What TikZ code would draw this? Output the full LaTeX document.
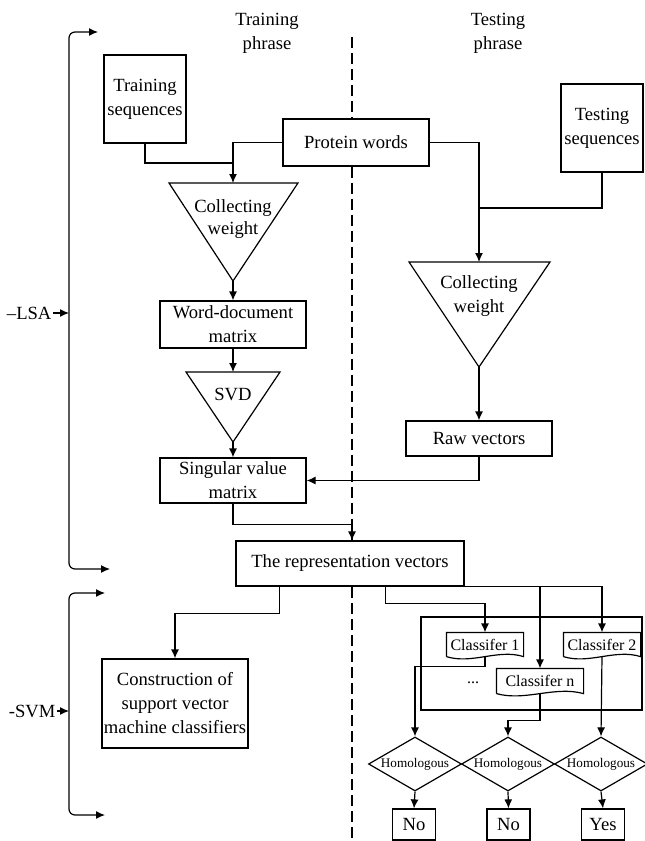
\documentclass[tikz,border=0pt]{standalone}
\usepackage{fontspec}
\setmainfont{Liberation Serif}
\usetikzlibrary{arrows.meta,shapes.geometric,calc}

\begin{document}
\begin{tikzpicture}[x=0.5pt, y=-0.5pt, line width=0.6pt, font=\fontsize{9.3}{12}\selectfont]

\useasboundingbox (0,0) rectangle (644,841);

%%% Styles

\tikzstyle{box}=[rectangle, draw, align=center, inner sep=1pt]
\tikzstyle{label}=[align=center, inner sep=1pt]
\tikzstyle{arr}=[-{Latex[length=4.5pt, width=4pt]}]
\tikzstyle{brace}=[{Latex[length=4.5pt, width=4pt]}-{Latex[length=4.5pt, width=4pt]}, rounded corners=3pt]
\tikzstyle{divide}=[dash pattern=on 5.5pt off 2.5pt, line width=1.1pt]
\tikzstyle{doc}=[inner sep=0pt, font=\fontsize{8}{9}\selectfont]
\tikzstyle{decision}=[diamond, draw, aspect=1.72, inner sep=0pt, minimum width=46.5pt, minimum height=27pt, font=\fontsize{6.6}{7}\selectfont]
\tikzstyle{answer}=[rectangle, draw, inner xsep=3pt, minimum width=21.5pt, minimum height=15.5pt]


% Phase titles

\node (trainlab) [label] at (267,33) {Training\\phrase};

\node (testlab) [label] at (498,33) {Testing\\phrase};


%%% Inputs

\node (trainseq) [box, minimum width=41pt, minimum height=44pt] at (145,99) {Training\\sequences};

\node (protein) [box, minimum width=73pt, minimum height=23.5pt] at (356,142.5) {Protein words};

\node (testseq) [box, minimum width=41pt, minimum height=44pt] at (602,128) {Testing\\sequences};


%%% Training side

% Collecting weight (left)
\coordinate (cwl top) at (233,183);
\coordinate (cwl apex) at (233,281);
\coordinate (jl) at (233,163);
\draw (169,183) -- (298,183) -- (cwl apex) -- cycle;
\node (cwl) [label] at (233,219) {Collecting\\[-1pt]weight};

\node (wdm) [box, minimum width=73pt, minimum height=23.5pt] at (233,324.5) {Word-document\\matrix};

% SVD
\coordinate (svd top) at (233,372);
\coordinate (svd apex) at (233,442);
\draw (186,372) -- (280,372) -- (svd apex) -- cycle;
\node (svd) [label] at (233,394) {SVD};

\node (svmat) [box, minimum width=73pt, minimum height=22.5pt] at (233,480.5) {Singular value\\matrix};

\node (constr) [box, minimum width=73pt, minimum height=44.5pt] at (175,703.5) {Construction of\\support vector\\machine classifiers};


%%% Testing side

% Collecting weight (right)
\coordinate (cwr top) at (479,262);
\coordinate (cwr apex) at (479,367);
\coordinate (jr) at (479,208);
\draw (409,262) -- (550,262) -- (cwr apex) -- cycle;
\node (cwr) [label] at (479,296) {Collecting\\weight};

\node (raw) [box, minimum width=73pt, minimum height=17.5pt] at (479,438.5) {Raw vectors};

\node (rep) [box, minimum width=114pt, minimum height=22.5pt] at (350,563.5) {The representation vectors};


% Classifiers

\draw (421,617) rectangle (642,710);

\node (c1) [doc, minimum width=38pt, minimum height=11.5pt] at (485,644.5) {Classifer 1};

\node (c2) [doc, minimum width=38pt, minimum height=11.5pt] at (602,644.5) {Classifer 2};

\node (cn) [doc, minimum width=43pt, minimum height=12pt] at (540,681) {Classifer n};

\node (dots) [doc] at (473,683) {...};

\foreach \c in {c1,c2,cn}
  \draw (\c.south west) -- (\c.north west) -- (\c.north east) -- (\c.south east)
    .. controls ($(\c.south east)!1/3!(\c.south west)+(0,-8)$) and ($(\c.south east)!2/3!(\c.south west)+(0,8)$) .. (\c.south west);


% Decisions

\node (d1) [decision] at (415,764) {Homologous};
\node (d2) [decision] at (508,764) {Homologous};
\node (d3) [decision] at (601,764) {Homologous};

\node (no1) [answer] at (414,824.5) {No};
\node (no2) [answer] at (508.5,824.5) {No};
\node (yes) [answer] at (603,824.5) {Yes};


%%% Divide between the phases

\coordinate (dtop) at (352,37);
\coordinate (dbot) at (352,841);

\draw [divide] (dtop) -- (protein.north -| dtop);
\draw [divide] (protein.south -| dtop) -- (rep.north -| dtop);
\draw [divide] (rep.south -| dtop) -- (dbot);


%%% Connectors

\draw [arr] (protein.west) -| (cwl top);
\draw (trainseq.south) |- (jl);

\draw [arr] (protein.east) -| (cwr top);
\draw (testseq.south) |- (jr);

\draw [arr] (cwl apex) -- (wdm.north);
\draw [arr] (wdm.south) -- (svd top);
\draw [arr] (svd apex) -- (svmat.north);

\draw [arr] (cwr apex) -- (raw.north);
\draw [arr] (raw.south) |- (svmat.east);

\draw [arr] (svmat.south) -- ++(0,21) -| (rep.north -| dtop);

\draw [arr] ([xshift=22pt]rep.south west) -- ++(0,27) -| (constr.north);
\draw [arr] ([xshift=75pt]rep.south west) -- ++(0,17) -| (c1.north);
\draw [arr] (rep.south east) -| (c2.north);
\draw [arr] (rep.south -| cn.north) -- (cn.north);

\draw [arr] (c1.south) -- ++(0,10) -| (d1.north);
\draw [arr] (cn.south) -- ++(0,27) -| (d2.north);
\draw [arr] (c2.south) -- (d3.north);

\draw [arr] (d1.south) -- (no1.north);
\draw [arr] (d2.south) -- (no2.north);
\draw [arr] (d3.south) -- (yes.north);


%%% LSA and SVM brackets

\draw [brace] (110,569) -- (69,569) -- (69,32) -- (98,32);
\node (lsa) [anchor=east, inner sep=0.5pt] at (53,313) {--LSA};
\draw [arr] (lsa.east) -- (69,313);

\draw [brace] (105,815) -- (69,815) -- (69,593) -- (105,593);
\node (svmlab) [anchor=east, inner sep=0.5pt] at (57,711) {-SVM};
\draw [arr] (svmlab.east) -- (69,711);

\end{tikzpicture}
\end{document}
